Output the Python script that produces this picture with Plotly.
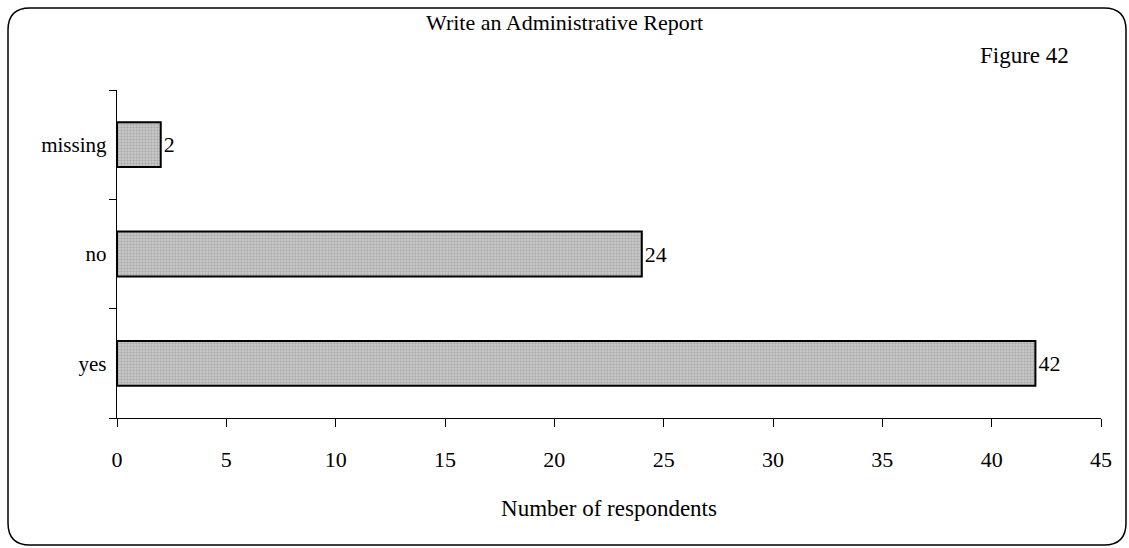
import plotly.graph_objects as go

categories = ["yes", "no", "missing"]
values = [42, 24, 2]
x_ticks = [0, 5, 10, 15, 20, 25, 30, 35, 40, 45]

W, H = 1129, 548
L, R, T, B = 117, 28, 90, 130
pw, ph = W - L - R, H - T - B

def px(x):
    return (x - L) / pw

def py(y):
    return (H - B - y) / ph

FONT = "Liberation Serif, Times New Roman, serif"

fig = go.Figure()
fig.add_trace(go.Bar(
    y=categories, x=values, orientation="h",
    text=[str(v) for v in values], textposition="outside",
    textfont=dict(family=FONT, size=22, color="black"),
    cliponaxis=False,
    marker=dict(color="#c0c0c0",
                pattern=dict(shape=".", size=3, solidity=0.5, fgcolor="#888888", bgcolor="#cfcfcf"),
                line=dict(color="black", width=2)),
    width=0.41,
))

# rounded border
x0, x1, y0, y1, r = 8, 1126, 8, 545, 22
path = (f"M {px(x0+r)},{py(y0)} L {px(x1-r)},{py(y0)} Q {px(x1)},{py(y0)} {px(x1)},{py(y0+r)} "
        f"L {px(x1)},{py(y1-r)} Q {px(x1)},{py(y1)} {px(x1-r)},{py(y1)} "
        f"L {px(x0+r)},{py(y1)} Q {px(x0)},{py(y1)} {px(x0)},{py(y1-r)} "
        f"L {px(x0)},{py(y0+r)} Q {px(x0)},{py(y0)} {px(x0+r)},{py(y0)} Z")

fig.update_layout(
    width=W, height=H,
    margin=dict(l=L, r=R, t=T, b=B),
    paper_bgcolor="white", plot_bgcolor="white",
    showlegend=False,
    font=dict(family=FONT, color="black"),
    xaxis=dict(range=[0, 45], tickvals=x_ticks, ticks="outside", ticklen=8,
               tickcolor="black", showline=True, linecolor="black", linewidth=1,
               showgrid=False, zeroline=False, ticklabelstandoff=14,
               tickfont=dict(family=FONT, size=22),
               title=dict(text="Number of respondents", font=dict(family=FONT, size=23), standoff=28)),
    yaxis=dict(categoryorder="array", categoryarray=categories,
               ticks="outside", ticklen=7, tickson="boundaries", tickcolor="black",
               showline=True, linecolor="black", linewidth=1, showgrid=False,
               tickfont=dict(family=FONT, size=21), ticksuffix=" "),
    shapes=[dict(type="path", xref="paper", yref="paper", path=path,
                 line=dict(color="black", width=1.5))],
    annotations=[
        dict(text="Write an Administrative Report", xref="paper", yref="paper",
             x=px(564), y=py(23), showarrow=False, font=dict(family=FONT, size=22),
             xanchor="center", yanchor="middle"),
        dict(text="Figure 42", xref="paper", yref="paper",
             x=px(1024), y=py(55), showarrow=False, font=dict(family=FONT, size=23),
             xanchor="center", yanchor="middle"),
    ],
)

fig.write_html("out.html", config={"displayModeBar": False},
               post_script="document.body.style.margin='0px';")
